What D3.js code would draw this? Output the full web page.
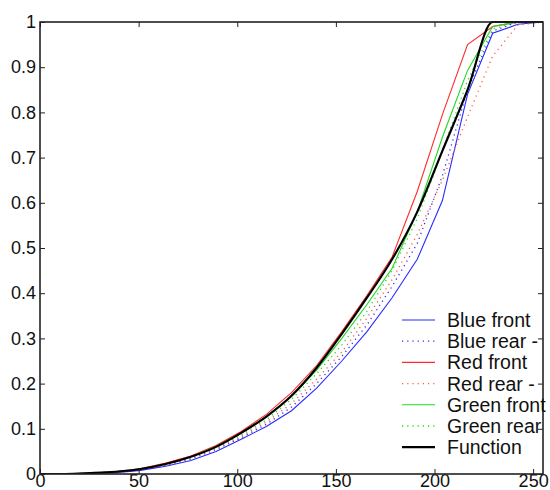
<!DOCTYPE html>
<html lang="en">
<head>
    <meta charset="UTF-8">
    <title>Cumulative curves</title>
    <script src="https://d3js.org/d3.v7.min.js"></script>
    <style>
        body { margin: 0; background: white; }
        svg { display: block; }
        text { font-family: "Liberation Sans", Arial, sans-serif; font-size: 18px; fill: #111; }
        .legend text { font-size: 19.5px; }
        .line { fill: none; }
    </style>
</head>
<body>
    <svg width="550" height="490"></svg>

    <script>
        // sample positions (intensity levels)
        let xs = [0, 12.75, 25.5, 38.25, 51, 63.75, 76.5, 89.25, 102, 114.75, 127.5,
                  140.25, 153, 165.75, 178.5, 191.25, 204, 216.75, 229.5, 242.25, 255];

        let blueFront  = [0, 0, 0.001, 0.003, 0.008, 0.017, 0.030, 0.050, 0.077, 0.105, 0.140,
                          0.190, 0.250, 0.315, 0.390, 0.475, 0.605, 0.840, 0.975, 0.995, 1];
        let blueRear   = [0, 0, 0.001, 0.003, 0.009, 0.019, 0.033, 0.054, 0.080, 0.110, 0.148,
                          0.200, 0.260, 0.330, 0.415, 0.510, 0.660, 0.850, 0.980, 1, 1];
        let redFront   = [0, 0, 0.002, 0.005, 0.012, 0.024, 0.040, 0.063, 0.094, 0.132, 0.180,
                          0.240, 0.315, 0.395, 0.480, 0.625, 0.795, 0.950, 0.990, 1, 1];
        let redRear    = [0, 0, 0.001, 0.004, 0.010, 0.020, 0.035, 0.056, 0.083, 0.115, 0.156,
                          0.210, 0.270, 0.345, 0.430, 0.530, 0.650, 0.790, 0.925, 0.993, 1];
        let greenFront = [0, 0, 0.002, 0.005, 0.011, 0.022, 0.038, 0.061, 0.090, 0.126, 0.172,
                          0.230, 0.300, 0.375, 0.455, 0.580, 0.745, 0.893, 0.990, 1, 1];
        let greenRear  = [0, 0, 0.001, 0.004, 0.011, 0.021, 0.036, 0.058, 0.086, 0.120, 0.165,
                          0.222, 0.285, 0.360, 0.450, 0.565, 0.715, 0.870, 0.985, 1, 1];
        let func       = [0, 0, 0.002, 0.005, 0.011, 0.022, 0.038, 0.060, 0.091, 0.127, 0.173,
                          0.235, 0.310, 0.390, 0.475, 0.580, 0.715, 0.850, 1, 1, 1];

        let legendNames = ["Blue front", "Blue rear -", "Red front", "Red rear  -",
                           "Green front", "Green rear", "Function"];
        let xTicks = [0, 50, 100, 150, 200, 250];
        let yTicks = [0, 0.1, 0.2, 0.3, 0.4, 0.5, 0.6, 0.7, 0.8, 0.9, 1];

        let series = [
            { values: blueFront,  color: "#2a2aff", width: 1.1, dash: null },
            { values: blueRear,   color: "#2a2aff", width: 1.3, dash: "1.2,4" },
            { values: redFront,   color: "#ff2a2a", width: 1.1, dash: null },
            { values: redRear,    color: "#ff5a3a", width: 1.3, dash: "1.2,4" },
            { values: greenFront, color: "#1fd81f", width: 1.1, dash: null },
            { values: greenRear,  color: "#1fd81f", width: 1.3, dash: "1.2,4" },
            { values: func,       color: "#000000", width: 2.2, dash: null, smooth: true }
        ];

        let svg = d3.select("svg");
        let m = { left: 40, right: 543, top: 22, bottom: 474 };

        let x = d3.scaleLinear().domain([0, 255]).range([m.left, m.right]);
        let y = d3.scaleLinear().domain([0, 1]).range([m.bottom, m.top]);

        let plot = svg.append("g");
        plot.append("clipPath").attr("id", "clip")
            .append("rect").attr("x", m.left).attr("y", m.top - 1)
            .attr("width", m.right - m.left).attr("height", m.bottom - m.top + 1);

        series.forEach(s => {
            let line = d3.line()
                .x((d, i) => x(xs[i]))
                .y(d => y(d))
                .curve(s.smooth ? d3.curveMonotoneX : d3.curveLinear);
            plot.append("path")
                .attr("class", "line")
                .attr("clip-path", "url(#clip)")
                .attr("d", line(s.values))
                .attr("stroke", s.color)
                .attr("stroke-width", s.width)
                .attr("stroke-dasharray", s.dash);
        });

        // axes: ticks point inward on all four sides
        let tickLen = 5;
        let xBottom = svg.append("g").attr("transform", `translate(0,${m.bottom})`)
            .call(d3.axisBottom(x).tickValues(xTicks).tickSize(-tickLen).tickPadding(2).tickFormat(d3.format("d")));
        let xTop = svg.append("g").attr("transform", `translate(0,${m.top})`)
            .call(d3.axisTop(x).tickValues(xTicks).tickSize(-tickLen).tickFormat(""));
        let yLeft = svg.append("g").attr("transform", `translate(${m.left},0)`)
            .call(d3.axisLeft(y).tickValues(yTicks).tickSize(-tickLen).tickPadding(4).tickFormat(d3.format("")));
        let yRight = svg.append("g").attr("transform", `translate(${m.right},0)`)
            .call(d3.axisRight(y).tickValues(yTicks).tickSize(-tickLen).tickFormat(""));

        [xBottom, xTop, yLeft, yRight].forEach(g => {
            g.select(".domain").remove();
            g.selectAll(".tick line").attr("stroke", "#222").attr("stroke-width", 1);
            g.selectAll(".tick text").attr("fill", "#111");
        });
        xBottom.selectAll(".tick text").attr("dy", "0.62em");

        svg.append("rect")
            .attr("x", m.left).attr("y", m.top)
            .attr("width", m.right - m.left).attr("height", m.bottom - m.top)
            .attr("fill", "none").attr("stroke", "#222").attr("stroke-width", 1.6);

        // legend
        let legend = svg.append("g").attr("class", "legend").attr("transform", "translate(402,320)");
        series.forEach((s, i) => {
            let row = legend.append("g").attr("transform", `translate(0,${i * 21.2})`);
            row.append("line")
                .attr("x1", 0).attr("x2", 33).attr("y1", 0).attr("y2", 0)
                .attr("stroke", s.color)
                .attr("stroke-width", s.width)
                .attr("stroke-dasharray", s.dash);
            row.append("text")
                .attr("x", 45).attr("y", 0).attr("dy", "0.36em")
                .text(legendNames[i]);
        });
    </script>
</body>
</html>
